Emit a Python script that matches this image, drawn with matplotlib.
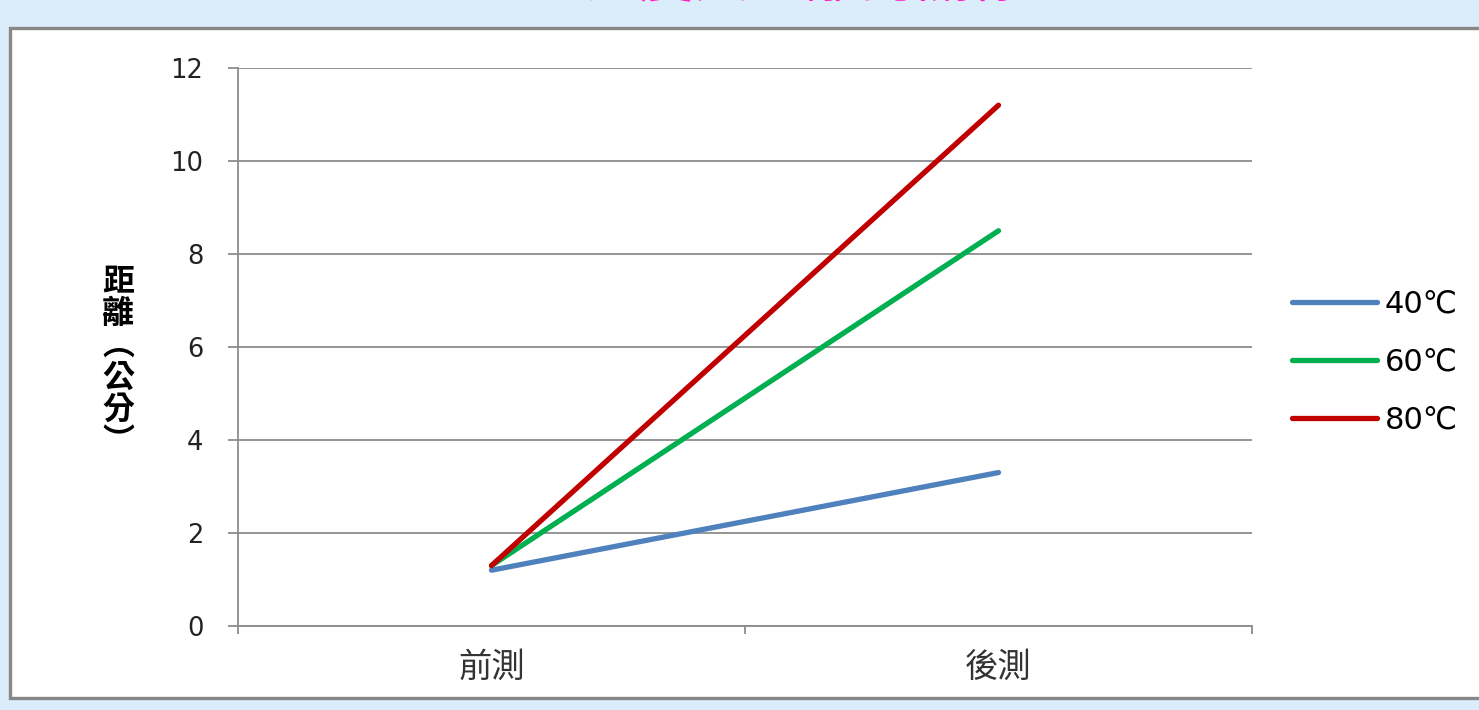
import matplotlib.pyplot as plt
from matplotlib.patches import Rectangle

categories = ['前測', '後測']
series = ['40℃', '60℃', '80℃']
values = {
    '40℃': [1.2, 3.3],
    '60℃': [1.3, 8.5],
    '80℃': [1.3, 11.2],
}
colors = {'40℃': '#4f81bd', '60℃': '#00b050', '80℃': '#c00000'}
yticks = [0, 2, 4, 6, 8, 10, 12]

cjk = ['Noto Sans CJK TC', 'DejaVu Sans']
plt.rcParams['font.family'] = ['DejaVu Sans', 'Noto Sans CJK TC']

fig = plt.figure(figsize=(14.79, 7.10), dpi=100)
fig.patch.set_facecolor('#dbedfb')

# white chart area with grey frame
frame = Rectangle((10 / 1479, 12 / 710), 1.05, 670 / 710, transform=fig.transFigure,
                  facecolor='white', edgecolor='#878787', linewidth=2.4, zorder=-1)
fig.patches.append(frame)

# title cut off at the top edge
fig.text(0.545, 1.0 - 10 / 710, '溫度與距離的關係', family=cjk, fontsize=40,
         color='#ff1ec8', ha='center', va='bottom')

ax = fig.add_axes([238 / 1479, 84 / 710, 1014 / 1479, 558 / 710])
ax.set_facecolor('none')
ax.set_zorder(2)

x = range(len(categories))
for s in series:
    ax.plot(x, values[s], color=colors[s], linewidth=3.8, solid_capstyle='round',
            label=s, zorder=3)

ax.set_xlim(-0.5, 1.5)
ax.set_ylim(0, 12)
ax.set_yticks(yticks)
ax.set_yticklabels([str(v) for v in yticks], fontsize=18.5, color='#222222')
ax.set_xticks(list(x))
ax.set_xticklabels(categories, family=cjk, fontsize=24, color='#333333')
ax.set_xticks([-0.5, 0.5, 1.5], minor=True)

ax.tick_params(axis='y', length=7, width=1.3, color='#8c8c8c', pad=18)
ax.tick_params(axis='x', which='major', length=0, pad=17)
ax.tick_params(axis='x', which='minor', length=6, width=1.3, color='#8c8c8c')

ax.grid(axis='y', color='#8c8c8c', linewidth=1.3, zorder=1)
for side in ['top', 'right']:
    ax.spines[side].set_visible(False)
for side in ['left', 'bottom']:
    ax.spines[side].set_color('#8c8c8c')
    ax.spines[side].set_linewidth(1.3)

fig.text(118 / 1479, 1 - 362 / 710, '距\n離\n︵\n公\n分\n︶', family=cjk,
         fontsize=23, fontweight='bold', ha='center', va='center', linespacing=1.0)

ax.legend(loc='center left', bbox_to_anchor=(1.039, 0.473), frameon=False,
          fontsize=22, handlelength=2.8, handletextpad=0.25, labelspacing=0.95,
          borderpad=0, borderaxespad=0)

fig.savefig('out.png', dpi=100, facecolor=fig.get_facecolor())
